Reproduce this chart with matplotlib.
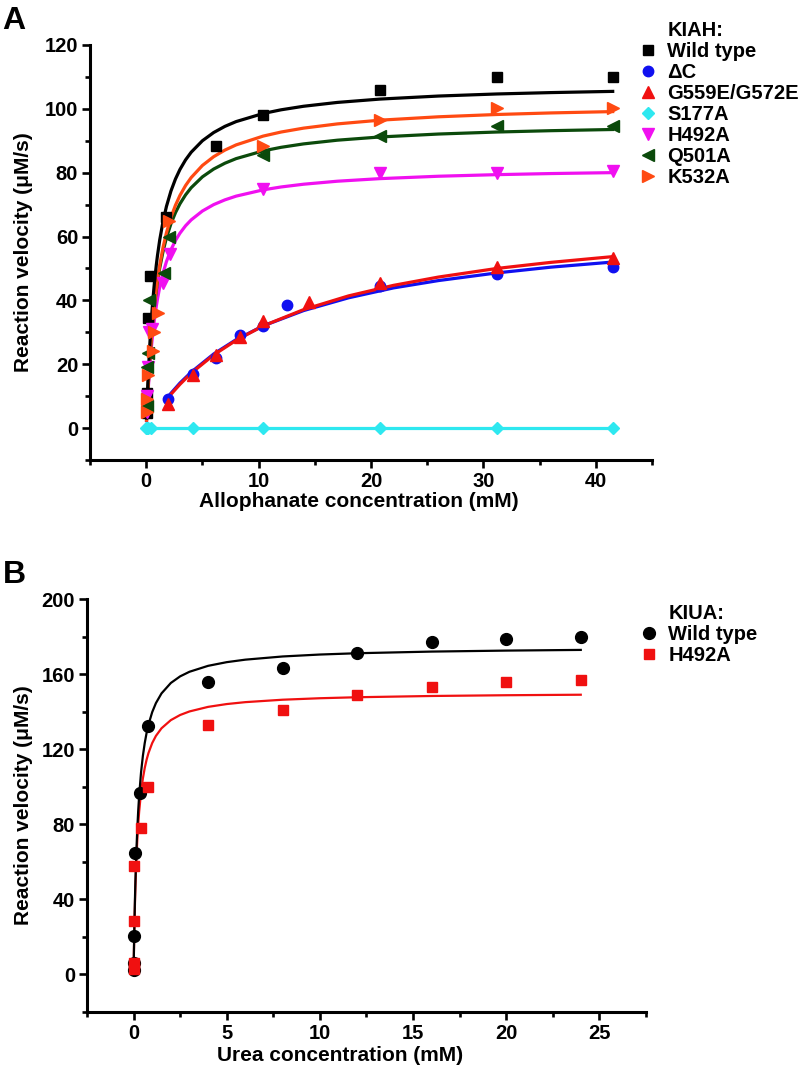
import matplotlib
matplotlib.use("Agg")
import matplotlib.pyplot as plt
from matplotlib.lines import Line2D
from matplotlib.ticker import MultipleLocator

plt.rcParams['font.family'] = ['Liberation Sans', 'DejaVu Sans']
plt.rcParams['font.weight'] = 'bold'
plt.rcParams['axes.labelweight'] = 'bold'

# ---- panel A: KIAH, allophanate (mM) vs velocity (uM/s) ----
wt_x = [0.03, 0.06, 0.12, 0.3, 1.8, 6.2, 10.4, 20.8, 31.2, 41.5]
wt_y = [4.7, 11, 34.5, 47.5, 66, 88.5, 98, 106, 110, 110]
dc_x = [1.9, 4.15, 6.2, 8.3, 10.4, 12.5, 20.8, 31.2, 41.5]
dc_y = [9, 17, 22, 29, 32, 38.6, 44.5, 48.4, 50.6]
gg_x = [1.9, 4.15, 6.2, 8.3, 10.4, 14.5, 20.8, 31.2, 41.5]
gg_y = [7.5, 16.5, 23, 28.5, 33.6, 39.5, 45.5, 50.3, 53.2]
s177_x = [0.0, 0.1, 0.2, 0.4, 4.15, 10.4, 20.8, 31.2, 41.5]
s177_y = [0, 0, 0, 0, 0, 0, 0, 0, 0]
h492_x = [0.03, 0.06, 0.13, 0.26, 0.5, 1.5, 2.1, 10.4, 20.8, 31.2, 41.5]
h492_y = [5, 10, 19, 30, 31, 45.5, 54.5, 75, 80, 80, 80.5]
q501_x = [0.03, 0.06, 0.13, 0.26, 1.6, 2.0, 10.4, 20.8, 31.2, 41.5]
q501_y = [7, 19, 23.5, 40, 48.5, 60, 85.5, 91.5, 94.7, 94.7]
k532_x = [0.04, 0.08, 0.16, 0.6, 0.65, 1.07, 2.0, 10.4, 20.8, 31.2, 41.5]
k532_y = [5, 9, 16.6, 24, 30, 36, 65, 88.5, 96.5, 100.3, 100.3]

# fitted curves
fitA_x = [0.03, 0.06, 0.1, 0.15, 0.2, 0.3, 0.4, 0.5, 0.6, 0.75, 0.9, 1.0, 1.2, 1.5, 1.8, 2.2,
          2.6, 3, 3.5, 4, 5, 6, 7, 8, 10.4, 12, 14, 17, 20.8, 26, 31.2, 36, 41.5]
fit_wt = [3.15, 6.11, 9.82, 14.09, 18.0, 24.92, 30.86, 36.0, 40.5, 46.29, 51.16, 54.0, 58.91,
          64.8, 69.43, 74.25, 78.0, 81.0, 84.0, 86.4, 90.0, 92.57, 94.5, 96.0, 98.53, 99.69,
          100.8, 102.0, 103.05, 104.0, 104.65, 105.08, 105.46]
fit_k532 = [2.49, 4.86, 7.85, 11.33, 14.57, 20.4, 25.5, 30.0, 34.0, 39.23, 43.71, 46.36, 51.0,
            56.67, 61.2, 66.0, 69.79, 72.86, 75.96, 78.46, 82.26, 85.0, 87.07, 88.7, 91.45,
            92.73, 93.95, 95.27, 96.44, 97.5, 98.22, 98.71, 99.13]
fit_q501 = [2.55, 4.97, 8.0, 11.52, 14.77, 20.57, 25.6, 30.0, 33.88, 38.92, 43.2, 45.71, 50.09,
            55.38, 59.59, 64.0, 67.46, 70.24, 73.04, 75.29, 78.69, 81.13, 82.96, 84.4, 86.82,
            87.94, 89.01, 90.17, 91.18, 92.1, 92.73, 93.15, 93.52]
fit_h492 = [2.32, 4.51, 7.26, 10.42, 13.33, 18.5, 22.94, 26.8, 30.18, 34.55, 38.24, 40.39, 44.13,
            48.62, 52.16, 55.85, 58.73, 61.04, 63.36, 65.21, 67.99, 69.99, 71.48, 72.65, 74.61,
            75.52, 76.38, 77.32, 78.13, 78.88, 79.38, 79.72, 80.01]
fitA2_x = [1.9, 3, 4, 6, 8, 10.4, 14, 18, 22, 26, 31.2, 36, 41.5]
fit_dc = [9.7, 14.1, 17.5, 23.2, 27.7, 32.0, 36.8, 40.8, 43.9, 46.2, 48.6, 50.4, 52.0]
fit_gg = [9.4, 13.7, 17.2, 22.9, 27.5, 32.0, 37.1, 41.4, 44.7, 47.3, 50.0, 51.9, 53.7]

# ---- panel B: KIUA, urea (mM) vs velocity ----
ub_wt_x = [0.005, 0.01, 0.03, 0.08, 0.36, 0.77, 4, 8, 12, 16, 20, 24]
ub_wt_y = [2.3, 6.2, 20.4, 64.8, 96.8, 132.5, 156, 163.3, 171.4, 177.3, 178.7, 179.8]
ub_h_x = [0.005, 0.01, 0.03, 0.05, 0.4, 0.77, 4, 8, 12, 16, 20, 24]
ub_h_y = [3, 6.2, 28.4, 58, 78, 100, 133, 141, 149, 153, 156, 157]

fitB_x = [0.005, 0.02, 0.05, 0.08, 0.1, 0.15, 0.2, 0.25, 0.3, 0.4, 0.5, 0.6, 0.7, 0.8, 1.0,
          1.2, 1.5, 2, 2.5, 3, 4, 5, 6, 8, 10, 12, 16, 20, 24]
fitB_wt = [3.43, 12.94, 29.12, 42.35, 49.91, 65.51, 77.64, 87.35, 95.29, 107.51, 116.47, 123.32,
           128.73, 133.1, 139.76, 144.58, 149.74, 155.29, 158.82, 161.26, 164.42, 166.38,
           167.71, 169.41, 170.44, 171.13, 172.01, 172.54, 172.9]
fitB_h = [3.34, 12.53, 27.85, 40.11, 47.0, 60.97, 71.62, 80.0, 86.77, 97.03, 104.44, 110.05,
          114.43, 117.96, 123.28, 127.1, 131.16, 135.5, 138.24, 140.12, 142.56, 144.06,
          145.08, 146.37, 147.16, 147.69, 148.36, 148.76, 149.03]

C_WT = 'black'
C_DC = '#1010f0'
C_GG = '#f01010'
C_S177 = '#2ee8f0'
C_H492 = '#f010f0'
C_Q501 = '#0b4a0b'
C_K532 = '#ff4a12'

FS = 14.5

def style_axes(ax):
    for s in ('top', 'right'):
        ax.spines[s].set_visible(False)
    for s in ('left', 'bottom'):
        ax.spines[s].set_linewidth(2.2)
    ax.tick_params(which='major', direction='out', length=5.5, width=1.9, labelsize=FS, pad=3)
    ax.tick_params(which='minor', direction='out', length=3.5, width=1.9)

fig = plt.figure(figsize=(7.98, 10.68), dpi=100)
axA = fig.add_axes([0.1128, 0.5693, 0.7043, 0.3886])
axB = fig.add_axes([0.1090, 0.0524, 0.7005, 0.3867])

# panel A curves
lw = 2.3
axA.plot(s177_x, s177_y, color=C_S177, lw=lw, zorder=2)
axA.plot(fitA2_x, fit_dc, color=C_DC, lw=lw, zorder=2)
axA.plot(fitA2_x, fit_gg, color=C_GG, lw=lw, zorder=2)
axA.plot(fitA_x, fit_h492, color=C_H492, lw=lw, zorder=2)
axA.plot(fitA_x, fit_q501, color=C_Q501, lw=lw, zorder=2)
axA.plot(fitA_x, fit_k532, color=C_K532, lw=lw, zorder=2)
axA.plot(fitA_x, fit_wt, color=C_WT, lw=lw, zorder=2)

series_A = [
    ("Wild type", wt_x, wt_y, 's', C_WT, 6.5),
    ("\u0394C", dc_x, dc_y, 'o', C_DC, 7.5),
    ("G559E/G572E", gg_x, gg_y, '^', C_GG, 8.5),
    ("S177A", s177_x, s177_y, 'D', C_S177, 6.5),
    ("H492A", h492_x, h492_y, 'v', C_H492, 8.5),
    ("Q501A", q501_x, q501_y, '<', C_Q501, 8.5),
    ("K532A", k532_x, k532_y, '>', C_K532, 8.5),
]
handles = [Line2D([], [], linestyle='none', marker=None)]
labels = ["KIAH:"]
for name, xs, ys, m, c, ms in series_A:
    h, = axA.plot(xs, ys, linestyle='none', marker=m, color=c, ms=ms, mec=c, zorder=3)
    handles.append(h)
    labels.append(name)

axA.set_xlim(-5, 45)
axA.set_ylim(-10, 120)
axA.xaxis.set_major_locator(MultipleLocator(10))
axA.xaxis.set_minor_locator(MultipleLocator(5))
axA.yaxis.set_major_locator(MultipleLocator(20))
axA.yaxis.set_minor_locator(MultipleLocator(10))
style_axes(axA)
axA.set_xlabel("Allophanate concentration (mM)", fontsize=15)
axA.set_ylabel("Reaction velocity (\u03bcM/s)", fontsize=15)
axA.xaxis.set_label_coords(0.479, -0.078)
axA.yaxis.set_label_coords(-0.102, 0.5)

axA.legend(handles, labels, loc='upper left', bbox_to_anchor=(0.7995, 0.9805),
           bbox_transform=fig.transFigure, frameon=False, fontsize=FS,
           handlelength=1.0, handletextpad=0.45, labelspacing=0.1,
           borderpad=0, borderaxespad=0, numpoints=1)

# panel B
axB.plot(fitB_x, fitB_h, color='#f01010', lw=1.6, zorder=2)
axB.plot(fitB_x, fitB_wt, color='black', lw=1.6, zorder=2)
hb1, = axB.plot(ub_wt_x, ub_wt_y, linestyle='none', marker='o', color='black', ms=8.5, zorder=3)
hb2, = axB.plot(ub_h_x, ub_h_y, linestyle='none', marker='s', color='#f01010', ms=7, zorder=3)
axB.set_xlim(-2.5, 27.5)
axB.set_ylim(-20, 200)
axB.xaxis.set_major_locator(MultipleLocator(5))
axB.xaxis.set_minor_locator(MultipleLocator(2.5))
axB.yaxis.set_major_locator(MultipleLocator(40))
axB.yaxis.set_minor_locator(MultipleLocator(20))
style_axes(axB)
axB.set_xlabel("Urea concentration (mM)", fontsize=15)
axB.set_ylabel("Reaction velocity (\u03bcM/s)", fontsize=15)
axB.xaxis.set_label_coords(0.453, -0.082)
axB.yaxis.set_label_coords(-0.097, 0.5)

axB.legend([Line2D([], [], linestyle='none', marker=None), hb1, hb2],
           ["KIUA:", "Wild type", "H492A"], loc='upper left',
           bbox_to_anchor=(0.8007, 0.4345), bbox_transform=fig.transFigure,
           frameon=False, fontsize=FS, handlelength=1.0, handletextpad=0.45,
           labelspacing=0.1, borderpad=0, borderaxespad=0, numpoints=1)

fig.text(0.003, 0.994, "A", fontsize=23, fontweight='bold', va='top', ha='left')
fig.text(0.003, 0.476, "B", fontsize=23, fontweight='bold', va='top', ha='left')

fig.savefig("out.png", dpi=100)
